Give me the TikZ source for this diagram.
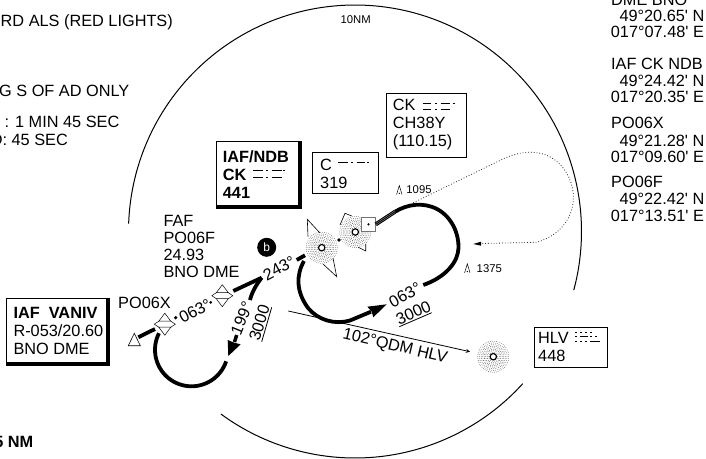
\documentclass[tikz,border=0pt]{standalone}
\usepackage{fontspec}
\newfontfamily\chartfont{Liberation Sans}
\newcommand{\morse}[3]{\foreach \a/\b in {#3}{\draw[morseline] ({#1+\a},#2) -- ({#1+\b},#2);}}
\newcommand{\boxshade}[1]{\draw[line width=3pt] ([xshift=1.5pt]#1.north east) -- ([xshift=1.5pt,yshift=-1.5pt]#1.south east) -- ([yshift=-1.5pt]#1.south west);}
\tikzset{
lab/.style={inner sep=0pt,font=\chartfont\fontsize{16.3}{17}\selectfont,align=left},
boxtext/.style={inner sep=0pt,anchor=west,font=\chartfont\fontsize{16.3}{18}\selectfont,align=left},
small/.style={inner sep=0pt,font=\chartfont\fontsize{11.3}{13}\selectfont},
infobox/.style={draw,line width=.8pt,anchor=north west,inner sep=0pt},
track/.style={line width=3.8pt},
morseline/.style={line width=1.4pt},
stipple/.pic={
\foreach \r/\n in {4.5/14,6/20,7.5/24,9/30,10.5/34,12/40,13.7/44,15.5/50}{
\foreach \k in {1,...,\n}{\fill[black!80] ({\r*cos(360/\n*\k)},{\r*sin(360/\n*\k)}) circle (.36);}
}
\draw[line width=1.2pt,fill=white] (0,0) circle (3.2);
},
fixstar/.pic={
\draw[line width=.5pt,fill=white] (0,-11) -- (6,-3) -- (-6,-3) -- cycle;
\draw[line width=.5pt,fill=white] (0,11) -- (6,3) -- (-6,3) -- cycle;
\draw[line width=.5pt] (-6,-3) -- (-10.5,0) -- (-6,3);
\draw[line width=.5pt] (6,-3) -- (10.5,0) -- (6,3);
},
obstacle/.pic={
\draw[line width=.5pt] (-2.7,4.5) -- (0,-4.5) -- (2.7,4.5);
\fill (0,3.3) circle (.7);
}
}
\begin{document}
\begin{tikzpicture}[x=1pt,y=-1pt]
\clip (0,0) rectangle (706,458);
\draw[line width=1pt,smooth,samples=90,domain=182:375] plot({355+226.5*cos(\x)},{231.5+226.5*sin(\x)});
\draw[line width=1pt,smooth,samples=40,domain=42.2:126.3] plot({355+226.5*cos(\x)},{231.5+226.5*sin(\x)});
\node[small] (tenNM) at (355.7,19.3) {10NM};
% notes cut off by the page edge
\node[lab,anchor=east] (noteals) at (173,22) {RD ALS (RED LIGHTS)};
\node[lab,anchor=east] (notead) at (129.5,91) {G S OF AD ONLY};
\node[lab,anchor=east] (notemin) at (119.5,122) {: 1 MIN 45 SEC};
\node[lab,anchor=east] (notesec) at (68,140) {D: 45 SEC};
\node[lab,anchor=east,font=\chartfont\bfseries\fontsize{16.3}{17}\selectfont] (notenm) at (33.5,442) {5 NM};
% coordinates column
\foreach \n/\xpos/\ypos/\txt in {
a/611/0/DME BNO, b/619.3/16/49°20.65' N, c/610.7/32.3/017°07.48' E,
d/611/64/IAF CK NDB, e/619.3/81/49°24.42' N, f/610.7/97.3/017°20.35' E,
g/611/123.3/PO06X, h/619.3/140.7/49°21.28' N, i/610.7/157.3/017°09.60' E,
j/611/181.7/PO06F, k/619.3/199/49°22.42' N, l/610.7/216/017°13.51' E}{
\node[lab,anchor=west] (pos\n) at (\xpos,\ypos) {\txt};
}
% boxes
\node[infobox,minimum width=82pt,minimum height=64pt] (iafndb) at (216,141) {};
\boxshade{iafndb}
\node[boxtext,font=\chartfont\bfseries\fontsize{16.3}{18}\selectfont] (iafndbtxt) at (222.7,174.5) {IAF/NDB\\CK\\441};
\morse{253.3}{170.7}{0/10,13/15,18.4/28.4,30/32}
\morse{253.3}{177.3}{0/10,13/15,18.4/28.4}
\node[infobox,minimum width=66pt,minimum height=41pt] (cbox) at (311.7,152.3) {};
\node[boxtext] (cboxtxt) at (320,173.5) {C\\319};
\morse{338.3}{162.3}{0/10,13/15,18.4/27,28.5/30.5}
\node[infobox,minimum width=80pt,minimum height=64.6pt] (ckbox) at (385.7,92.7) {};
\node[boxtext] (ckboxtxt) at (392.7,124) {CK\\CH38Y\\(110.15)};
\morse{422.7}{103.3}{0/8,12/14,18/27,30/32}
\morse{422.7}{109.3}{0/8,12/14,18/27}
\node[infobox,minimum width=100.3pt,minimum height=64.6pt] (vaniv) at (5.7,297.7) {};
\boxshade{vaniv}
\node[boxtext] (vanivtxt) at (13.3,331) {\textbf{IAF\ \ VANIV}\\R-053/20.60\\BNO DME};
\node[infobox,minimum width=72.7pt,minimum height=40pt] (hlvbox) at (534.3,326.7) {};
\node[boxtext] (hlvtxt) at (538,347) {HLV\\448};
\morse{575}{332.3}{0/2,5/7,10/12,15/17}
\morse{575}{336.7}{0/2,5/13,15/17,20/22}
\morse{575}{341.7}{0/2,5/7,10/12,15/25}
% beacons
\foreach \n/\xpos/\ypos in {ndbck/321.7/247.7,ndbc/355.3/232,ndbhlv/493.3/356.7}{
\coordinate (\n) at (\xpos,\ypos);
\pic at (\n) {stipple};
}
\draw[line width=.6pt] (320,233) -- (307.3,219.3) -- (308,236.7);
\draw[line width=.6pt] (323,264) -- (336.7,276.7) -- (333,258);
\draw[line width=.6pt] (351.7,216) -- (345,213.3) -- (340,225);
\draw[line width=.6pt] (358.3,247.3) -- (365.7,251) -- (365.7,244);
\fill (339,240) circle (1.8);
\node[draw=black!55,line width=.9pt,fill=white,minimum size=13.5pt,inner sep=0pt] (dme) at (368.5,224.4) {};
\fill (dme.center) circle (1.2);
% holding pattern
\coordinate (hold1) at (395,211.7);
\coordinate (hold2) at (423.3,285);
\coordinate (arrowck) at (386.7,304.3);
\draw[line width=4pt] (dme.east) -- (hold1);
\foreach \o in {-.9,.9}{\draw[black!45,line width=.4pt] ([yshift=\o pt]dme.east) -- ([yshift=\o pt]hold1);}
\draw[track] (hold1) .. controls (408,204) and (423,202) .. (437,209) .. controls (452,217) and (459,234) .. (458.5,248) .. controls (458,262) and (446,277) .. (hold2);
\draw[track] (304,261) .. controls (296,275) and (296,292) .. (308.3,308.3) .. controls (318,320) and (335,325) .. (350,320.5) -- (371,311.7);
\fill (arrowck) -- (373.3,317.3) -- (371.7,311.7) -- (367.3,306.7) -- cycle;
\draw[track] (296.7,260) -- (305,255.3);
% dotted outbound
\coordinate (dotstart) at (413.3,202.7);
\coordinate (dotend) at (473.3,244);
\draw[line width=.8pt,dotted,black!85] (dotstart) -- (505,158) .. controls (528,148) and (552,150) .. (566,172) .. controls (582,198) and (572,232) .. (536.7,242.3) -- (481,243.5);
\fill (dotend) -- (481,241.7) -- (481,245.7) -- cycle;
% approach track
\coordinate (fixx) at (164.8,324.2);
\coordinate (fixf) at (222.3,295.7);
\coordinate (apex) at (261.7,277.7);
\draw[line width=.6pt,fill=white] (134.3,333.3) -- (140.3,345.7) -- (128.3,345.7) -- cycle;
\draw[track] (138.3,337.3) -- (155,329);
\pic at (fixx) {fixstar};
\pic at (fixf) {fixstar};
\fill (175.7,317.7) circle (1.8);
\fill (210.7,302.3) circle (1.5);
\draw[track] (233.3,291) -- (apex);
\draw[track] (apex) .. controls (256,285) and (252,292) .. (250,300);
\draw[track,smooth,samples=40,domain=18.4:207] plot({191.5+36.5*cos(\x)},{349.8+36.5*sin(\x)});
\draw[line width=3.5pt] (236.7,335) -- (234.5,342);
\fill (228.3,356) -- (227.7,340) -- (234.3,342.7) -- (240.7,344.3) -- cycle;
% course labels
\node[lab,rotate=28] (crsa) at (195,311) {063°};
\node[lab,rotate=28] (crsb) at (279,268.3) {243°};
\node[lab,rotate=68] (crsc) at (241.7,318.3) {199°};
\node[lab,rotate=73] (altc) at (259.3,322.7) {3000};
\draw[line width=.8pt] (261.7,341.7) -- (271.7,307.3);
\node[lab,rotate=29] (crsd) at (405,295) {063°};
\node[lab,rotate=24] (altd) at (413.3,312.7) {3000};
\draw[line width=.8pt] (399.3,326.7) -- (431.7,312.7);
\coordinate (qdmstart) at (288.3,311);
\coordinate (qdmend) at (470,351.7);
\draw[line width=.8pt,-stealth] (qdmstart) -- (qdmend);
\node[lab,rotate=-13.5] (qdm) at (395,346.7) {102°QDM HLV};
% other labels
\node[lab,anchor=west] (po6x) at (118,303.3) {PO06X};
\node[lab,anchor=west] (faf) at (163.3,246.2) {FAF\\PO06F\\24.93\\BNO DME};
\node[circle,fill=black,text=white,minimum size=19pt,inner sep=0pt,font=\chartfont\fontsize{12}{12}\selectfont] (bnote) at (266.7,247.3) {b};
\pic at (399.3,190) {obstacle};
\node[small] (obsa) at (419,190) {1095};
\pic at (467.3,268.3) {obstacle};
\node[small] (obsb) at (489.3,268.3) {1375};
\end{tikzpicture}
\end{document}
